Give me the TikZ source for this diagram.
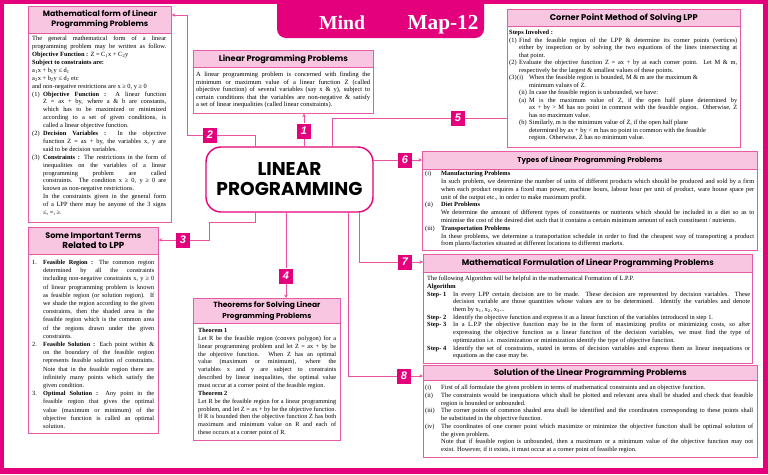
\documentclass[tikz,border=0pt]{standalone}
\usepackage{fontspec}
\usepackage{graphicx}
\setmainfont{Liberation Serif}
\newfontfamily\hfont{Poppins}
\newfontfamily\lfont{Liberation Sans}
\usetikzlibrary{arrows.meta}
\definecolor{mag}{HTML}{E4007C}
\definecolor{bord}{HTML}{E95AA5}
\definecolor{hfill}{HTML}{F9C6E1}
\definecolor{lnc}{HTML}{E9539F}
\hbadness=10000 \hfuzz=60pt
\newsavebox\lnbox
\newcommand\hl[2]{\resizebox{#1pt}{!}{\hfont\bfseries #2}}
% justified line (squeezed if too long)
\newcommand\jline[2]{\sbox\lnbox{#2}%
 \ifdim\wd\lnbox>\dimexpr\hsize-#1pt\relax
  \hbox to\hsize{\hskip#1pt\relax\resizebox{\dimexpr\hsize-#1pt\relax}{\height}{\usebox\lnbox}}%
 \else\hbox to\hsize{\hskip#1pt\relax #2}\fi}
% ragged line (squeezed if too long)
\newcommand\rline[2]{\sbox\lnbox{#2}%
 \ifdim\wd\lnbox>\dimexpr\hsize-#1pt\relax
  \hbox to\hsize{\hskip#1pt\relax\resizebox{\dimexpr\hsize-#1pt\relax}{\height}{\usebox\lnbox}}%
 \else\hbox to\hsize{\hskip#1pt\relax #2\hfil}\fi}
\newcommand\jitem[4]{\jline{#1}{\hbox to#2pt{#3\hfil}#4}}
\newcommand\ritem[4]{\rline{#1}{\hbox to#2pt{#3\hfil}#4}}
\newcommand\tb[2]{\vbox{\hsize=#1pt\relax #2}}
\newcommand\sub[1]{\textsubscript{#1}}
\tikzset{
 hdr/.style={draw=bord, fill=hfill, line width=0.7pt, inner sep=0pt, anchor=north west, align=center, font=\fontsize{7}{10}\selectfont},
 bbox/.style={draw=bord, fill=white, line width=0.7pt, inner sep=0pt, anchor=north west},
 txt/.style={inner sep=0pt, anchor=north west},
 lab/.style={fill=mag, minimum width=14pt, minimum height=15pt, inner sep=0pt, text=white, font=\lfont\bfseries\itshape\fontsize{11}{11}\selectfont},
 conn/.style={draw=lnc, line width=0.8pt},
 arr/.style={conn, -{Stealth[length=3.5pt,width=3.5pt]}},
 core/.style={draw=mag, line width=1.4pt, rounded corners=15pt, fill=white, minimum width=167pt, minimum height=65pt, inner sep=0pt, align=center, font=\fontsize{14}{20}\selectfont},
 ttl/.style={anchor=base, text=white, inner sep=0pt},
}
\begin{document}
\begin{tikzpicture}[x=1pt,y=-1pt]
\useasboundingbox (0,0) rectangle (768,474);
% frame
\fill[mag] (0,0) rectangle (768,474);
\fill[white] (4,4) rectangle (763,468);
\fill[mag, rounded corners=9pt] (277,-12) rectangle (484,38);
\node[ttl] (mind) at (342,29) {\resizebox{46pt}{!}{\bfseries Mind}};
\node[ttl] (map) at (443,29) {\resizebox{71pt}{!}{\bfseries Map-12}};

% Box 1: Mathematical form
\node[bbox, minimum width=143, minimum height=189] (b1b) at (28,33) {};
\node[hdr, minimum width=143, minimum height=27] (b1h) at (28,6) {\hl{114}{Mathematical form of Linear}\\\hl{97}{Programming Problems}};
\node[txt, font=\fontsize{6.4}{7.9}\selectfont] (t1) at (32,36) {\tb{134}{%
\jline{0}{The general mathematical form of a linear}
\jline{0}{programming problem may be written as follow.}
\rline{0}{\textbf{Objective Function :} Z = C\sub{1}x + C\sub{2}y}
\rline{0}{\textbf{Subject to constraints are:}}
\rline{0}{a\sub{1}x + b\sub{1}y ≤ d\sub{1}}
\rline{0}{a\sub{2}x + b\sub{2}y ≤ d\sub{2} etc}
\rline{0}{and non-negative restrictions are x ≥ 0, y ≥ 0}
\jitem{0}{11}{(1)}{\textbf{Objective Function :} A linear function}
\jline{11}{Z = ax + by, where a \& b are constants,}
\jline{11}{which has to be maximized or minimized}
\jline{11}{according to a set of given conditions, is}
\rline{11}{called a linear objective function.}
\jitem{0}{11}{(2)}{\textbf{Decision Variables :} In the objective}
\jline{11}{function Z = ax + by, the variables x, y are}
\rline{11}{said to be decision variables.}
\jitem{0}{11}{(3)}{\textbf{Constraints :} The restrictions in the form of}
\jline{11}{inequalities on the variables of a linear}
\jline{11}{programming problem are called}
\jline{11}{constraints. The condition x ≥ 0, y ≥ 0 are}
\rline{11}{known as non-negative restrictions.}
\jline{11}{In the constraints given in the general form}
\jline{11}{of a LPP there may be anyone of the 3 signs}
\rline{11}{≤, =, ≥.}}};

% Box 2: Some important terms
\node[bbox, minimum width=130, minimum height=179] (b2b) at (28,254) {};
\node[hdr, minimum width=130, minimum height=27] (b2h) at (28,227) {\hl{96}{Some Important Terms}\\\hl{62}{Related to LPP}};
\node[txt, font=\fontsize{6.3}{8.2}\selectfont] (t2) at (32,260) {\tb{122}{%
\jitem{0}{11}{1.}{\textbf{Feasible Region :} The common region}
\jline{11}{determined by all the constraints}
\jline{11}{including non-negative constraints x, y ≥ 0}
\jline{11}{of linear programming problem is known}
\jline{11}{as feasible region (or solution region). If}
\jline{11}{we shade the region according to the given}
\jline{11}{constraints, then the shaded area is the}
\jline{11}{feasible region which is the common area}
\jline{11}{of the regions drawn under the given}
\rline{11}{constraints.}
\jitem{0}{11}{2.}{\textbf{Feasible Solution :} Each point within \&}
\jline{11}{on the boundary of the feasible region}
\jline{11}{represents feasible solution of constraints.}
\jline{11}{Note that in the feasible region there are}
\jline{11}{infinitely many points which satisfy the}
\rline{11}{given condition.}
\jitem{0}{11}{3.}{\textbf{Optimal Solution :} Any point in the}
\jline{11}{feasible region that gives the optimal}
\jline{11}{value (maximum or minimum) of the}
\jline{11}{objective function is called an optimal}
\rline{11}{solution.}}};

% Box 0: Linear Programming Problems
\node[bbox, minimum width=180, minimum height=46] (b0b) at (193,67) {};
\node[hdr, minimum width=180, minimum height=17] (b0h) at (193,50) {\hl{129}{Linear Programming Problems}};
\node[txt, font=\fontsize{6.5}{7.5}\selectfont] (t0) at (196,72) {\tb{174}{%
\jline{0}{A linear programming problem is concerned with finding the}
\jline{0}{minimum or maximum value of a linear function Z (called}
\jline{0}{objective function) of several variables (say x \& y), subject to}
\jline{0}{certain conditions that the variables are non-negative \& satisfy}
\rline{0}{a set of linear inequalities (called linear constraints).}}};

% Box 4: Theorems
\node[bbox, minimum width=147, minimum height=117] (b4b) at (193,323) {};
\node[hdr, minimum width=147, minimum height=25, font=\fontsize{7}{11}\selectfont] (b4h) at (193,298) {\hl{107}{Theorems for Solving Linear}\\\hl{89}{Programming Problems}};
\node[txt, font=\fontsize{6.3}{7.85}\selectfont] (t4) at (198,328) {\tb{138}{%
\rline{0}{\textbf{Theorem 1}}
\jline{0}{Let R be the feasible region (convex polygon) for a}
\jline{0}{linear programming problem and let Z = ax + by be}
\jline{0}{the objective function. When Z has an optimal}
\jline{0}{value (maximum or minimum), where the}
\jline{0}{variables x and y are subject to constraints}
\jline{0}{described by linear inequalities, the optimal value}
\rline{0}{must occur at a corner point of the feasible region.}
\rline{0}{\textbf{Theorem 2}}
\jline{0}{Let R be the feasible region for a linear programming}
\jline{0}{problem, and let Z = ax + by be the objective function.}
\jline{0}{If R is bounded then the objective function Z has both}
\jline{0}{maximum and minimum value on R and each of}
\rline{0}{these occurs at a corner point of R.}}};

% Box 5: Corner point method
\node[bbox, minimum width=233, minimum height=121] (b5b) at (507,26) {};
\node[hdr, minimum width=233, minimum height=17] (b5h) at (507,9) {\hl{148}{Corner Point Method of Solving LPP}};
\node[txt, font=\fontsize{6.4}{7.5}\selectfont] (t5) at (509,30) {\tb{228}{%
\rline{0}{\textbf{Steps Involved :}}
\jitem{0}{10}{(1)}{Find the feasible region of the LPP \& determine its corner points (vertices)}
\jline{10}{either by inspection or by solving the two equations of the lines intersecting at}
\rline{10}{that point.}
\jitem{0}{10}{(2)}{Evaluate the objective function Z = ax + by at each corner point. Let M \& m,}
\rline{10}{respectively be the largest \& smallest values of these points.}
\rline{0}{\hbox to8pt{(3)\hfil}\hbox to12pt{(i)\hfil}When the feasible region is bounded, M \& m are the maximum \&}
\rline{20}{minimum values of Z.}
\ritem{10}{10}{(ii)}{In case the feasible region is unbounded, we have:}
\jitem{10}{10}{(a)}{M is the maximum value of Z, if the open half plane determined by}
\jline{20}{ax + by > M has no point in common with the feasible region. Otherwise, Z}
\rline{20}{has no maximum value.}
\ritem{10}{10}{(b)}{Similarly, m is the minimum value of Z, if the open half plane}
\rline{20}{determined by ax + by < m has no point in common with the feasible}
\rline{20}{region. Otherwise, Z has no minimum value.}}};

% Box 6: Types
\node[bbox, minimum width=335, minimum height=81] (b6b) at (422,169) {};
\node[hdr, minimum width=335, minimum height=18] (b6h) at (422,151) {\hl{145}{Types of Linear Programming Problems}};
\node[txt, font=\fontsize{6.4}{7.8}\selectfont] (t6) at (425,171) {\tb{329}{%
\ritem{0}{16}{(i)}{\textbf{Manufacturing Problems}}
\jline{16}{In such problem, we determine the number of units of different products which should be produced and sold by a firm}
\jline{16}{when each product requires a fixed man power, machine hours, labour hour per unit of product, ware house space per}
\rline{16}{unit of the output etc., in order to make maximum profit.}
\ritem{0}{16}{(ii)}{\textbf{Diet Problems}}
\jline{16}{We determine the amount of different types of constituents or nutrients which should be included in a diet so as to}
\rline{16}{minimise the cost of the desired diet such that it contains a certain minimum amount of each constituent / nutrients.}
\ritem{0}{16}{(iii)}{\textbf{Transportation Problems}}
\jline{16}{In these problems, we determine a transportation schedule in order to find the cheapest way of transporting a product}
\rline{16}{from plants/factories situated at different locations to different markets.}}};

% Box 7: Mathematical formulation
\node[bbox, minimum width=329, minimum height=91] (b7b) at (423,272) {};
\node[hdr, minimum width=329, minimum height=18] (b7h) at (423,254) {\hl{252}{Mathematical Formulation of Linear Programming Problems}};
\node[txt, font=\fontsize{6.4}{7.7}\selectfont] (t7) at (427,276) {\tb{323}{%
\rline{0}{The following Algorithm will be helpful in the mathematical Formation of L.P.P.}
\rline{0}{\textbf{Algorithm}}
\jitem{0}{26}{\textbf{Step- 1}}{In every LPP certain decision are to be made. These decision are represented by decision variables. These}
\jline{26}{decision variable are those quantities whose values are to be determined. Identify the variables and denote}
\rline{26}{them by x\sub{1}, x\sub{2}, x\sub{3}...}
\ritem{0}{26}{\textbf{Step- 2}}{Identify the objective function and express it as a linear function of the variables introduced in step 1.}
\jitem{0}{26}{\textbf{Step- 3}}{In a L.P.P the objective function may be in the form of maximizing profits or minimizing costs, so after}
\jline{26}{expressing the objective function as a linear function of the decision variables, we must find the type of}
\rline{26}{optimization i.e. maximization or minimization identify the type of objective function.}
\jitem{0}{26}{\textbf{Step- 4}}{Identify the set of constraints, stated in terms of decision variables and express them as linear inequations or}
\rline{26}{equations as the case may be.}}};

% Box 8: Solution
\node[bbox, minimum width=334, minimum height=77] (b8b) at (423,380) {};
\node[hdr, minimum width=334, minimum height=15] (b8h) at (423,365) {\hl{193}{Solution of the Linear Programming Problems}};
\node[txt, font=\fontsize{6.4}{7.75}\selectfont] (t8) at (425,385) {\tb{328}{%
\ritem{0}{16}{(i)}{First of all formulate the given problem in terms of mathematical constraints and an objective function.}
\jitem{0}{16}{(ii)}{The constraints would be inequations which shall be plotted and relevant area shall be shaded and check that feasible}
\rline{16}{region is bounded or unbounded.}
\jitem{0}{16}{(iii)}{The corner points of common shaded area shall be identified and the coordinates corresponding to these points shall}
\rline{16}{be substituted in the objective function.}
\jitem{0}{16}{(iv)}{The coordinates of one corner point which maximize or minimize the objective function shall be optimal solution of}
\rline{16}{the given problem.}
\jline{16}{Note that if feasible region is unbounded, then a maximum or a minimum value of the objective function may not}
\rline{16}{exist. However, if it exists, it must occur at a corner point of feasible region.}}};

% central node
\node[core] (lp) at (289.5,179.5) {\resizebox{64pt}{!}{\hfont\bfseries LINEAR}\\\resizebox{146pt}{!}{\hfont\bfseries PROGRAMMING}};

% labels
\node[lab] (l1) at (304,131) {1};
\node[lab] (l2) at (210,135) {2};
\node[lab] (l3) at (183,240) {3};
\node[lab] (l4) at (286,276) {4};
\node[lab] (l5) at (458,118) {5};
\node[lab] (l6) at (405,160) {6};
\node[lab] (l7) at (405,262) {7};
\node[lab] (l8) at (404,376) {8};

% helper coordinates
\coordinate (p2) at (255,147);
\coordinate (k2) at (187,15);
\coordinate (p3) at (255,212);
\coordinate (k3) at (209,222);
\coordinate (p5) at (332,147);
\coordinate (p7) at (359,212);
\coordinate (p8) at (348,212);

% connectors
\draw[conn] (lp.north -| l1) -- (l1);
\draw[arr] (l1) -- (l1 |- b0b.south);
\draw[conn] (p2) |- (l2);
\draw[arr] (l2) -| (k2) -- (k2 -| b1h.east);
\draw[conn] (p3) |- (k3) |- (l3);
\draw[arr] (l3) -- (l3 -| b2h.east);
\draw[conn] (lp.south -| l4) -- (l4);
\draw[arr] (l4) -- (l4 |- b4h.north);
\draw[conn] (p5) |- (l5);
\draw[conn] (l5) -- (l5 -| b5b.west);
\draw[conn] (lp.east |- l6) -- (l6);
\draw[arr] (l6) -- (l6 -| b6h.west);
\draw[conn] (p7) |- (l7);
\draw[arr] (l7) -- (l7 -| b7h.west);
\draw[conn] (p8) |- (l8);
\draw[arr] (l8) -- (l8 -| b8h.west);
\end{tikzpicture}
\end{document}
